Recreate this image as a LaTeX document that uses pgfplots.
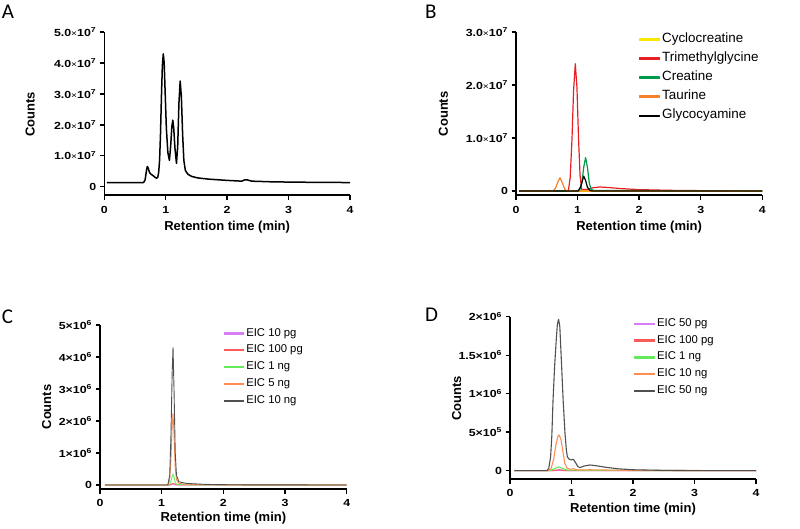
\documentclass[border=0pt]{standalone}
\usepackage{fontspec}
\setmainfont{Liberation Sans}
\newfontfamily\panelfont{Carlito}
\newfontfamily\tickfont[FakeStretch=1.2]{Liberation Sans}
\usepackage{pgfplots}
\pgfplotsset{compat=1.18}
\newcommand{\sci}[2]{#1{\fontsize{8.5}{8.5}\selectfont\mdseries ×}10\textsuperscript{#2}}
\definecolor{yel}{RGB}{250,230,0}
\definecolor{redB}{RGB}{232,30,37}
\definecolor{grnB}{RGB}{0,155,72}
\definecolor{orgB}{RGB}{245,130,40}
\definecolor{purC}{RGB}{215,125,245}
\definecolor{redC}{RGB}{250,90,90}
\definecolor{grnC}{RGB}{100,235,90}
\definecolor{orgC}{RGB}{255,140,80}
\definecolor{gryC}{RGB}{80,80,80}
\pgfplotsset{gp/.style={
  scale only axis, anchor=south west, xmin=0, xmax=4, xtick={0,1,2,3,4},
  axis lines=left, axis line style={-, line width=1.5pt},
  tick align=outside, major tick length=4.5pt, tick style={line width=1.4pt, black},
  scaled y ticks=false, scaled x ticks=false,
  tick label style={font=\tickfont\fontsize{10.3}{12}\selectfont\bfseries},
  /pgf/number format/assume math mode=true,
  xticklabels={0,1,2,3,4},
  label style={font=\fontsize{13}{15}\selectfont\bfseries},
  xlabel={Retention time (min)}, ylabel={Counts},
  legend cell align=left,
  clip=false,
}}
\begin{document}
\begin{tikzpicture}[x=1pt,y=1pt]
\useasboundingbox (0,0) rectangle (800,528);
% ---------------- A ----------------
\begin{axis}[gp, at={(104.3pt,332.8pt)}, width=245.7pt, height=163pt,
  ymin=-2.8e6, ymax=5e7, ytick={0,1e7,2e7,3e7,4e7,5e7},
  yticklabels={0,\sci{1.0}{7},\sci{2.0}{7},\sci{3.0}{7},\sci{4.0}{7},\sci{5.0}{7}},
  xticklabel style={yshift=-3pt},
  xlabel style={at={(axis description cs:0.5,0)}, anchor=center, yshift=-32pt},
  ylabel style={at={(axis description cs:-0.302,0.495)}, anchor=center}]
\addplot[black, line width=1.5pt, line join=round] coordinates {
(0.04,1.3e6) (0.64,1.3e6) (0.665,2.2e6) (0.685,5.0e6) (0.70,6.5e6) (0.715,6.0e6) (0.735,4.6e6)
(0.76,4.0e6) (0.79,3.6e6) (0.82,3.1e6) (0.85,2.7e6) (0.87,3.0e6) (0.885,4.5e6) (0.90,8.5e6)
(0.915,17e6) (0.93,29e6) (0.945,39e6) (0.96,43e6) (0.975,40e6) (0.99,31e6) (1.01,19e6)
(1.035,11e6) (1.06,8.5e6) (1.08,13e6) (1.10,19.5e6) (1.115,21.5e6) (1.13,19e6) (1.15,12.5e6)
(1.175,7.5e6) (1.195,13e6) (1.215,27e6) (1.235,34.2e6) (1.255,29e6) (1.275,17e6) (1.295,8.5e6)
(1.32,5.2e6) (1.36,4.0e6) (1.42,3.3e6) (1.52,2.8e6) (1.7,2.4e6) (2.0,2.0e6) (2.24,1.75e6)
(2.29,2.2e6) (2.33,2.15e6) (2.40,1.75e6) (2.7,1.55e6) (3.0,1.45e6) (3.5,1.35e6) (4.0,1.3e6)};
\end{axis}
% ---------------- B ----------------
\begin{axis}[gp, at={(516pt,332.8pt)}, width=246.3pt, height=163.3pt,
  ymin=-0.8e6, ymax=3e7, ytick={0,1e7,2e7,3e7},
  yticklabels={0,\sci{1.0}{7},\sci{2.0}{7},\sci{3.0}{7}},
  xticklabel style={yshift=-3pt},
  xlabel style={at={(axis description cs:0.5,0)}, anchor=center, yshift=-32pt},
  ylabel style={at={(axis description cs:-0.295,0.498)}, anchor=center},
  legend style={at={(axis description cs:0.485,1.025)}, anchor=north west, draw=none, fill=none,
    font=\fontsize{13.4}{15}\selectfont, row sep=0pt,
    nodes={text height=10pt, text depth=4.5pt, inner sep=2.3pt}},
  legend image code/.code={\fill[#1] (0pt,-0.85pt) rectangle (20pt,0.85pt);}]
\addplot[yel, line width=1.2pt] coordinates {(0.05,0) (4,0)};
\addlegendentry{Cyclocreatine}
\addplot[redB, line width=1.2pt, line join=round] coordinates {
(0.05,0) (0.85,0) (0.88,0.25e7) (0.91,1.0e7) (0.935,1.9e7) (0.963,2.4e7) (0.99,1.95e7)
(1.015,1.0e7) (1.04,0.3e7) (1.066,0.03e7) (1.15,0.03e7) (1.25,0.06e7) (1.36,0.075e7)
(1.5,0.065e7) (1.7,0.045e7) (2.0,0.025e7) (2.5,0.012e7) (3.0,0.006e7) (3.4,0.003e7) (3.45,0)};
\addlegendentry{Trimethylglycine}
\addplot[grnB, line width=1.2pt, line join=round] coordinates {
(0.05,0) (1.03,0) (1.07,0.15e7) (1.10,0.45e7) (1.13,0.63e7) (1.16,0.45e7) (1.19,0.15e7)
(1.22,0.03e7) (1.26,0.01e7) (4,0)};
\addlegendentry{Creatine}
\addplot[orgB, line width=1.2pt, line join=round] coordinates {
(0.05,0) (0.6,0) (0.64,0.05e7) (0.68,0.17e7) (0.714,0.25e7) (0.75,0.16e7) (0.79,0.04e7)
(0.82,0) (4,0)};
\addlegendentry{Taurine}
\addplot[black, line width=1.2pt, line join=round] coordinates {
(0.05,0) (1.01,0) (1.05,0.08e7) (1.08,0.2e7) (1.10,0.28e7) (1.13,0.2e7) (1.16,0.07e7)
(1.20,0.01e7) (1.23,0) (4,0)};
\addlegendentry{Glycocyamine}
\end{axis}
% ---------------- C ----------------
\begin{axis}[gp, at={(100pt,39pt)}, width=246.7pt, height=164pt,
  ymin=-0.125e6, ymax=5e6, ytick={0,1e6,2e6,3e6,4e6,5e6},
  yticklabels={0,1×10\textsuperscript{6},2×10\textsuperscript{6},3×10\textsuperscript{6},4×10\textsuperscript{6},5×10\textsuperscript{6}},
  xticklabel style={yshift=-2pt},
  xlabel style={at={(axis description cs:0.5,0)}, anchor=center, yshift=-29.3pt},
  ylabel style={at={(axis description cs:-0.216,0.5)}, anchor=center},
  legend style={at={(axis description cs:0.49,1.013)}, anchor=north west, draw=none, fill=none,
    font=\fontsize{11.3}{13}\selectfont, row sep=0pt,
    nodes={text height=8.7pt, text depth=3.5pt, inner sep=2.3pt}},
  legend image code/.code={\fill[#1] (0pt,-0.55pt) rectangle (19pt,0.55pt);}]
\addplot[purC, line width=0.9pt] coordinates {
(0.08,0) (1.12,0) (1.184,0.01e6) (1.25,0) (4,0)};
\addlegendentry{EIC 10 pg}
\addplot[redC, line width=0.9pt] coordinates {
(0.08,0) (1.12,0) (1.15,0.02e6) (1.184,0.05e6) (1.22,0.02e6) (1.26,0) (4,0)};
\addlegendentry{EIC 100 pg}
\addplot[grnC, line width=0.9pt] coordinates {
(0.08,0) (1.10,0) (1.13,0.03e6) (1.15,0.12e6) (1.17,0.27e6) (1.184,0.33e6) (1.20,0.24e6)
(1.22,0.08e6) (1.24,0.03e6) (1.3,0.01e6) (1.6,0.003e6) (4,0)};
\addlegendentry{EIC 1 ng}
\addplot[orgC, line width=0.9pt] coordinates {
(0.08,0) (1.10,0) (1.13,0.16e6) (1.15,0.78e6) (1.17,1.83e6) (1.184,2.25e6) (1.20,1.57e6)
(1.22,0.52e6) (1.24,0.16e6) (1.28,0.05e6) (1.4,0.026e6) (1.7,0.01e6) (2.0,0.005e6) (4,0)};
\addlegendentry{EIC 5 ng}
\addplot[gryC, line width=0.9pt] coordinates {
(0.08,0) (1.10,0) (1.13,0.3e6) (1.15,1.5e6) (1.17,3.5e6) (1.184,4.3e6) (1.20,3.0e6)
(1.22,1.0e6) (1.24,0.3e6) (1.28,0.1e6) (1.4,0.05e6) (1.7,0.02e6) (2.0,0.01e6) (2.5,0.004e6) (4,0)};
\addlegendentry{EIC 10 ng}
\end{axis}
% ---------------- D ----------------
\begin{axis}[gp, at={(510pt,49pt)}, width=246pt, height=162.3pt,
  ymin=-0.108e6, ymax=2e6, ytick={0,0.5e6,1e6,1.5e6,2e6},
  yticklabels={0,5×10\textsuperscript{5},1×10\textsuperscript{6},1.5×10\textsuperscript{6},2×10\textsuperscript{6}},
  xticklabel style={yshift=-2pt},
  xlabel style={at={(axis description cs:0.5,0)}, anchor=center, yshift=-30pt},
  ylabel style={at={(axis description cs:-0.217,0.497)}, anchor=center},
  legend style={at={(axis description cs:0.49,1.022)}, anchor=north west, draw=none, fill=none,
    font=\fontsize{11.3}{13}\selectfont, row sep=0pt,
    nodes={text height=8.7pt, text depth=3.5pt, inner sep=2.3pt}},
  legend image code/.code={\fill[#1] (0pt,-0.65pt) rectangle (20pt,0.65pt);}]
\addplot[purC, line width=1.1pt] coordinates {
(0.07,0) (0.70,0) (0.8,0.005e6) (0.9,0) (4,0)};
\addlegendentry{EIC 50 pg}
\addplot[redC, line width=1.1pt] coordinates {
(0.07,0) (0.68,0) (0.8,0.012e6) (0.92,0) (4,0)};
\addlegendentry{EIC 100 pg}
\addplot[grnC, line width=1.1pt, line join=round] coordinates {
(0.07,0) (0.65,0) (0.72,0.025e6) (0.79,0.05e6) (0.86,0.028e6) (0.93,0.008e6) (1.3,0.004e6) (4,0)};
\addlegendentry{EIC 1 ng}
\addplot[orgC, line width=1.1pt, line join=round] coordinates {
(0.07,0) (0.63,0) (0.67,0.03e6) (0.71,0.15e6) (0.75,0.35e6) (0.78,0.45e6) (0.80,0.464e6)
(0.83,0.4e6) (0.86,0.25e6) (0.89,0.1e6) (0.93,0.03e6) (0.98,0.02e6) (1.03,0.025e6)
(1.08,0.012e6) (1.15,0.008e6) (1.3,0.012e6) (1.6,0.008e6) (2.0,0.004e6) (4,0)};
\addlegendentry{EIC 10 ng}
\addplot[gryC, line width=1.1pt, line join=round] coordinates {
(0.07,0) (0.60,0) (0.63,0.03e6) (0.66,0.18e6) (0.68,0.45e6) (0.70,0.92e6) (0.725,1.35e6)
(0.748,1.65e6) (0.77,1.9e6) (0.79,1.966e6) (0.81,1.87e6) (0.84,1.35e6) (0.865,0.9e6)
(0.894,0.49e6) (0.915,0.28e6) (0.932,0.18e6) (0.96,0.15e6) (0.99,0.14e6) (1.03,0.148e6)
(1.07,0.1e6) (1.10,0.055e6) (1.138,0.04e6) (1.2,0.06e6) (1.30,0.074e6) (1.4,0.065e6)
(1.55,0.045e6) (1.75,0.025e6) (2.0,0.012e6) (2.5,0.004e6) (3.0,0.001e6) (4,0)};
\addlegendentry{EIC 50 ng}
\end{axis}
% panel letters
\node[anchor=north west, inner sep=0pt, font=\panelfont\fontsize{21}{21}\selectfont] at (1.7,523) {A};
\node[anchor=north west, inner sep=0pt, font=\panelfont\fontsize{21}{21}\selectfont] at (425,523) {B};
\node[anchor=north west, inner sep=0pt, font=\panelfont\fontsize{21}{21}\selectfont] at (1.7,218) {C};
\node[anchor=north west, inner sep=0pt, font=\panelfont\fontsize{21}{21}\selectfont] at (425,220) {D};
\end{tikzpicture}
\end{document}
